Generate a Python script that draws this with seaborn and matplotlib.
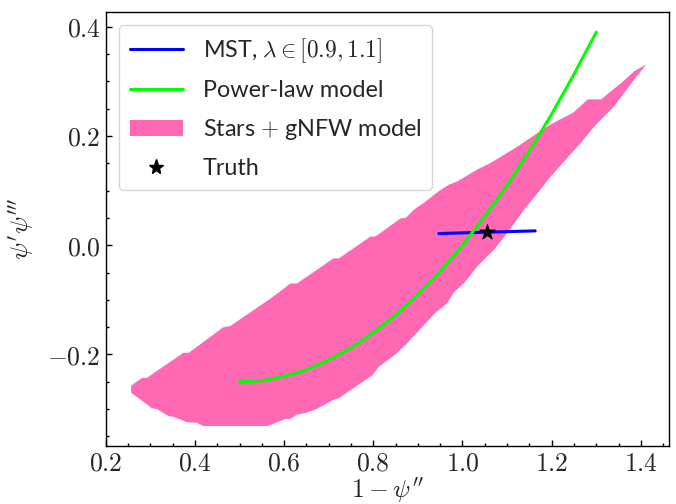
import numpy as np
import pandas as pd
import matplotlib
matplotlib.use("Agg")
import matplotlib.pyplot as plt
import seaborn as sns
from matplotlib.ticker import FuncFormatter, MultipleLocator
from matplotlib.lines import Line2D
from matplotlib.patches import Patch

# ---- data ----
# Stars + gNFW band: upper and lower edges
band_upper_x = [0.257, 0.281, 0.292, 0.374, 0.386, 0.464, 0.479, 0.569, 0.592, 0.614,
                0.629, 0.711, 0.723, 0.794, 0.805, 0.861, 0.873, 0.891, 0.914, 0.947,
                0.970, 0.989, 1.011, 1.034, 1.064, 1.082, 1.124, 1.153, 1.191, 1.225,
                1.247, 1.281, 1.311, 1.333, 1.360, 1.386, 1.412]
band_upper_y = [-0.257, -0.243, -0.243, -0.197, -0.197, -0.150, -0.148, -0.098, -0.084, -0.070,
                -0.070, -0.024, -0.024, 0.016, 0.016, 0.049, 0.050, 0.065, 0.078, 0.099,
                0.111, 0.117, 0.128, 0.139, 0.151, 0.160, 0.181, 0.197, 0.218, 0.233,
                0.242, 0.267, 0.267, 0.282, 0.300, 0.319, 0.331]
band_lower_x = [0.257, 0.303, 0.315, 0.341, 0.352, 0.382, 0.404, 0.419, 0.562, 0.573,
                0.603, 0.614, 0.629, 0.648, 0.670, 0.711, 0.723, 0.798, 0.813, 0.850,
                0.873, 0.898, 0.939, 0.966, 0.980, 1.004, 1.034, 1.071, 1.101, 1.138,
                1.169, 1.198, 1.232, 1.266, 1.296, 1.341, 1.382, 1.412]
band_lower_y = [-0.270, -0.298, -0.300, -0.313, -0.314, -0.324, -0.325, -0.331, -0.331, -0.328,
                -0.318, -0.318, -0.310, -0.307, -0.301, -0.283, -0.280, -0.238, -0.222, -0.200,
                -0.182, -0.160, -0.124, -0.106, -0.087, -0.069, -0.038, -0.008, 0.023, 0.065,
                0.096, 0.126, 0.157, 0.188, 0.218, 0.255, 0.300, 0.331]

# Power-law model curve
pl_x = [0.50, 0.55, 0.60, 0.65, 0.70, 0.75, 0.80, 0.85, 0.90, 0.95,
        1.00, 1.05, 1.10, 1.15, 1.20, 1.25, 1.30]
pl_y = [-0.250, -0.248, -0.240, -0.228, -0.210, -0.188, -0.160, -0.128, -0.090, -0.048,
        0.000, 0.053, 0.110, 0.173, 0.240, 0.313, 0.390]

# MST line, lambda in [0.9, 1.1]
mst_x = [0.947, 1.163]
mst_y = [0.0214, 0.0263]

# Truth
truth_x = [1.055]
truth_y = [0.024]

labels = [r"MST, $\lambda \in [0.9, 1.1]$", "Power-law model",
          r"Stars $+$ gNFW model", "Truth"]

# ---- style ----
sns.set_style("white")
plt.rcParams["font.family"] = ["Lato", "DejaVu Sans"]
plt.rcParams["mathtext.fontset"] = "cm"

FS = 18.5
LFS = 16.8
fig, ax = plt.subplots(figsize=(6.76, 5.04), dpi=100)
fig.subplots_adjust(left=0.1564, right=0.9896, top=0.9762, bottom=0.1157)

band_x = band_upper_x + band_lower_x[::-1]
band_y = band_upper_y + band_lower_y[::-1]
ax.fill(band_x, band_y, color="#FF69B4", lw=0, zorder=1)

sns.lineplot(x=mst_x, y=mst_y, color="#0000FF", lw=2.2, ax=ax, zorder=2, sort=False)
sns.lineplot(x=pl_x, y=pl_y, color="#00FF00", lw=2.2, ax=ax, zorder=3, sort=False)
sns.scatterplot(x=truth_x, y=truth_y, marker="*", s=140, color="black",
                edgecolor="black", linewidth=0.5, ax=ax, zorder=4)

ax.set_xlim(0.2, 1.463)
ax.set_ylim(-0.367, 0.427)

ax.xaxis.set_major_locator(MultipleLocator(0.2))
ax.xaxis.set_minor_locator(MultipleLocator(0.05))
ax.yaxis.set_major_locator(MultipleLocator(0.2))
ax.yaxis.set_minor_locator(MultipleLocator(0.05))
fmt = FuncFormatter(lambda v, p: "$%s$" % ("%.1f" % v).replace("-0.0", "0.0"))
ax.xaxis.set_major_formatter(fmt)
ax.yaxis.set_major_formatter(fmt)
ax.tick_params(which="both", direction="in", bottom=True, left=True, top=False, right=False,
               labelsize=FS, width=1.0, color="black")
ax.tick_params(which="major", length=4)
ax.tick_params(which="minor", length=2.5)
for s in ax.spines.values():
    s.set_color("black")
    s.set_linewidth(1.0)

ax.set_xlabel(r"$1-\psi''$", fontsize=FS, labelpad=0)
ax.set_ylabel(r"$\psi'\psi'''$", fontsize=FS, labelpad=8)

handles = [Line2D([], [], color="#0000FF", lw=2.2),
           Line2D([], [], color="#00FF00", lw=2.2),
           Patch(facecolor="#FF69B4", edgecolor="none"),
           Line2D([], [], color="black", marker="*", ls="none", markersize=11)]
ax.legend(handles, labels, loc="upper left", fontsize=LFS, frameon=True,
          fancybox=True, framealpha=0.8, edgecolor="0.8",
          handlelength=2.3, handletextpad=0.85, borderaxespad=0.57,
          labelspacing=0.68, borderpad=0.45)

fig.savefig("out.png", dpi=100)
